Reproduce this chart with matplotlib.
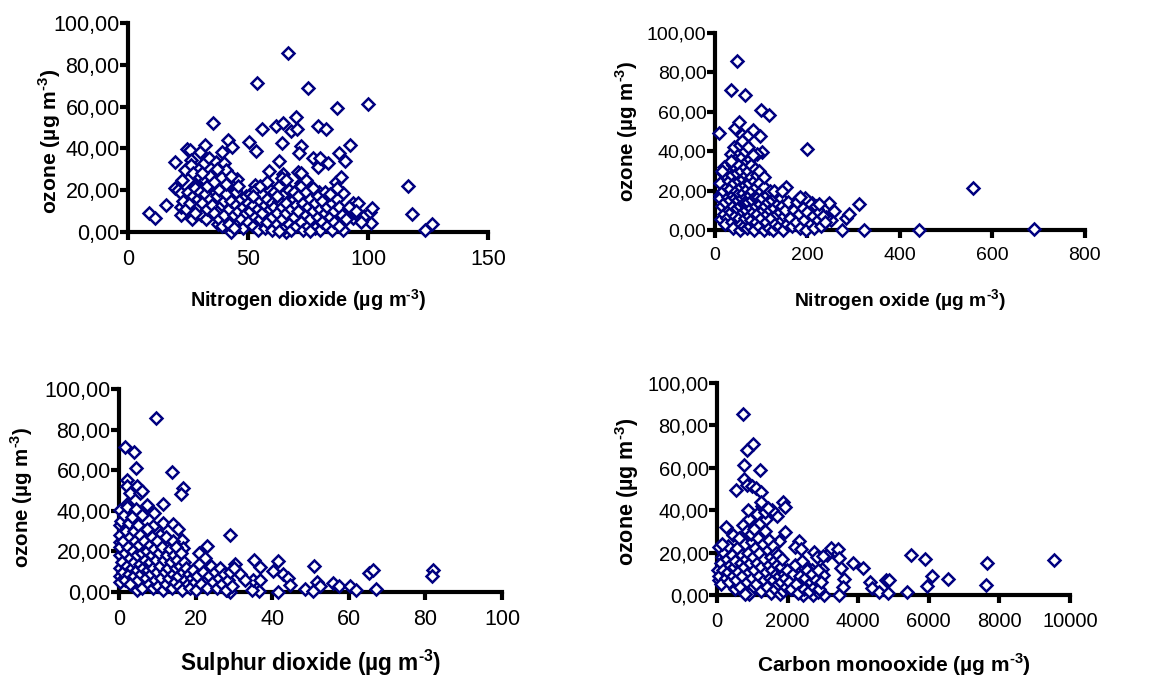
import matplotlib.pyplot as plt
from matplotlib.ticker import FuncFormatter

plt.rcParams['font.family'] = ['Liberation Sans', 'DejaVu Sans']
plt.rcParams['mathtext.fontset'] = 'custom'
plt.rcParams['mathtext.rm'] = 'Liberation Sans:bold'
plt.rcParams['mathtext.bf'] = 'Liberation Sans:bold'

# ---------- data ----------
# Nitrogen dioxide vs ozone
no2_x = [8.6, 11.4, 15.7, 19.7, 19.4, 20.8, 21.9, 21.9, 22.6, 22.2,
         23.6, 24.6, 26.0, 26.1, 26.4, 26.5, 27.1, 27.8, 27.8, 28.5,
         29.9, 30.1, 30.6, 30.6, 31.5, 32.2, 32.2, 32.6, 33.8, 35.4,
         35.7, 36.1, 36.5, 37.5, 38.2, 39.2, 39.9, 41.0, 41.7, 42.4,
         43.3, 43.1, 44.4, 45.6, 45.6, 50.4, 53.5, 53.9, 52.8, 56.0,
         58.8, 61.5, 62.9, 64.6, 64.3, 64.6, 66.7, 66.0, 68.1, 70.1,
         70.6, 71.9, 71.1, 70.8, 72.2, 75.0, 77.1, 79.2, 79.9, 79.0,
         79.6, 82.6, 83.3, 84.7, 87.2, 87.9, 86.8, 88.9, 90.3, 89.6,
         89.6, 92.4, 87.5, 93.8, 93.8, 94.9, 95.8, 98.3, 100.0, 100.7,
         101.4, 101.8, 116.7, 118.3, 123.6, 126.8,
         23, 24, 25, 26, 27, 28, 29, 29, 30, 28,
         31, 32, 33, 33, 34, 35, 36, 37, 38, 39, 38, 39, 34, 37, 40, 40, 36, 31,
         41, 42, 42, 43, 44, 45, 45, 46, 47, 47, 48, 48, 49, 49, 50, 50, 46, 44, 41, 43,
         51, 51, 52, 52, 53, 53, 54, 54, 55, 55, 56, 56, 57, 57, 58, 58, 59, 59, 60, 60,
         60, 55, 58, 52,
         61, 61, 62, 62, 63, 63, 64, 64, 65, 65, 66, 66, 67, 67, 68, 68, 69, 69, 70, 70,
         62, 64, 66, 63, 69,
         71, 71, 72, 72, 73, 73, 74, 74, 75, 75, 76, 76, 77, 77, 78, 78, 79, 79, 80, 80,
         74, 72, 76,
         81, 81, 82, 82, 83, 83, 84, 85, 85, 86, 86, 87, 88, 88, 89, 84, 87,
         91, 92, 95, 97]
no2_o3 = [9.1, 6.7, 13.1, 33.3, 21.1, 20.0, 18.7, 8.0, 24.8, 12.0,
          29.6, 39.5, 39.2, 34.4, 32.0, 6.4, 28.0, 22.4, 18.4, 13.6,
          26.4, 38.1, 16.8, 8.0, 32.8, 41.6, 24.8, 6.4, 35.2, 52.3,
          28.0, 18.9, 33.6, 4.0, 31.2, 38.4, 33.1, 29.6, 44.0, 20.8,
          40.8, 0.0, 20.0, 25.3, 5.6, 43.2, 38.7, 71.5, 22.4, 49.3,
          29.3, 50.9, 34.1, 52.3, 42.4, 27.7, 85.6, 0.0, 48.3, 54.9,
          49.3, 41.1, 37.6, 28.8, 23.5, 69.1, 35.5, 31.2, 35.5, 50.9,
          19.2, 49.1, 33.1, 15.2, 59.2, 37.6, 24.0, 26.4, 33.9, 18.9,
          1.1, 41.6, 4.8, 14.1, 6.7, 8.8, 14.1, 7.5, 61.3, 9.6,
          4.3, 11.7, 21.9, 8.8, 1.1, 3.7,
          15, 11, 19, 14, 17, 21, 12, 16, 19, 9,
          14, 18, 11, 22, 16, 13, 9, 17, 6, 13, 20, 3, 27, 30, 15, 8, 24, 28,
          18, 11, 4, 15, 8, 13, 19, 10, 6, 16, 12, 2, 9, 17, 14, 5, 22, 2, 23, 27,
          10, 18, 3, 13, 7, 20, 11, 1, 15, 6, 9, 18, 2, 13, 16, 5, 11, 20, 7, 14,
          1, 22, 24, 17,
          12, 19, 4, 9, 15, 22, 6, 12, 2, 18, 9, 14, 4, 20, 11, 1, 16, 7, 13, 3,
          17, 26, 25, 0.5, 19,
          10, 17, 5, 22, 14, 1, 8, 19, 12, 3, 16, 6, 10, 21, 2, 14, 7, 17, 11, 1,
          25, 28, 0.5,
          5, 15, 9, 19, 3, 12, 7, 14, 1, 10, 5, 16, 3, 12, 8, 18, 21,
          6, 12, 10, 5]

# Nitrogen oxide vs ozone
nox_x = [48, 34.5, 64.7, 98.6, 117, 9.4, 43, 52.5, 57.6, 72,
         82.7, 97, 100.7, 91.4, 34.5, 200, 10.8, 10.8, 12.2, 19.4,
         18, 154.7, 140, 180, 210.8, 221, 247, 257, 252, 284,
         290, 311.5, 275.5, 321.6, 441, 557.6, 690.6, 239.6,
         12, 15, 18, 20, 22, 25, 27, 28, 30, 26, 15, 22, 30,
         32, 33, 35, 36, 37, 38, 40, 40, 42, 43, 44, 45, 46, 47, 48, 48, 49, 50, 35, 42, 38,
         51, 52, 53, 53, 54, 55, 55, 56, 57, 57, 58, 59, 60, 60, 61, 62, 62, 63, 64, 65,
         65, 66, 67, 68, 68, 69, 70, 70, 58, 64,
         71, 72, 72, 73, 74, 75, 75, 76, 77, 78, 78, 79, 80, 81, 82, 83, 84, 85, 86, 87,
         88, 88, 89, 90,
         92, 93, 95, 96, 97, 99, 100, 102, 103, 105, 106, 108, 110, 112, 113, 115, 117, 118,
         120, 95, 105,
         122, 124, 126, 128, 130, 132, 134, 136, 138, 140, 142, 144, 146, 148, 150, 152, 155,
         158, 128, 145,
         162, 166, 170, 175, 178, 182, 185, 190, 193, 197, 200, 203, 207, 212, 215, 218, 222,
         226, 230, 233, 238, 195, 185, 225]
nox_o3 = [85.6, 71.2, 68.3, 60.7, 58.6, 49.0, 52.0, 54.6, 48.3, 48.3,
          50.8, 47.8, 39.8, 38.6, 38.6, 41.2, 24.0, 17.8, 5.4, 32.2,
          28.8, 22.0, 18.6, 15.6, 13.6, 10.5, 13.6, 9.8, 5.1, 5.9,
          8.1, 13.2, 0.0, 0.0, 0.0, 21.2, 0.3, 6.8,
          16, 12, 20, 8, 14, 22, 6, 17, 10, 27, 30, 3, 25,
          15, 21, 9, 28, 4, 18, 12, 33, 24, 7, 16, 36, 20, 2, 11, 29, 40, 15, 35, 42, 1,
          25, 6, 19, 33, 12, 43, 0, 22, 3, 30, 16, 37, 9, 26, 19, 44, 2, 13, 32, 23,
          6, 40, 17, 28, 10, 35, 1, 21, 45, 14,
          30, 14, 42, 7, 24, 36, 2, 18, 11, 33, 27, 5, 20, 15, 38, 9, 25, 0, 17, 31,
          4, 12, 22, 28,
          8, 17, 24, 2, 13, 20, 6, 16, 10, 0, 22, 12, 4, 18, 8, 14, 1, 20,
          10, 30, 27,
          6, 15, 0, 11, 3, 17, 8, 13, 2, 9, 16, 5, 12, 0, 7, 10, 3,
          14, 20, 20,
          6, 2, 10, 4, 14, 8, 1, 11, 5, 0, 9, 14, 3, 7, 1, 12, 5,
          9, 2, 7, 4, 16, 17, 13]

# Sulphur dioxide vs ozone
so2_x = [9.6, 1.7, 3.9, 4.4, 13.9, 2.0, 2.0, 2.9, 4.8, 5.5,
         6.1, 16.8, 16.2, 11.4, 2.0, 7.2, 9.1, 8.8, 10.7, 11.6,
         14.0, 15.5, 16.4, 16.6, 29.0, 22.9, 20.8, 30.4, 35.3, 36.8,
         41.4, 40.1, 42.7, 44.2, 44.6, 50.9, 51.7, 52.6, 55.9, 57.5,
         60.4, 62.0, 65.3, 66.3, 67.2, 82.0, 81.7, 48.5, 50.7, 41.6,
         36.6, 34.8, 34.9, 36.8, 31.6, 32.9, 29.0, 28.1, 4.6, 0.3,
         0.3, 0.3,
         0.2, 0.3, 0.3, 0.4, 0.2, 0.5, 0.4, 0.8, 1, 1, 1.2, 1.5, 1.6, 1.8, 2, 2.2, 2.4, 2.5,
         2.7, 2.8, 3, 3,
         3.3, 3.5, 3.6, 3.8, 4, 4, 4.2, 4.4, 4.6, 4.8, 5, 5, 5.2, 5.4, 5.6, 5.8, 6, 6, 6.1,
         6.4, 6.6, 6.8, 7, 7.2, 7.4, 7.6, 7.8, 8, 8, 8.3, 8.5, 8.7, 9, 9, 9.2, 9.5, 9.7, 10, 10,
         10.3, 10.5, 10.8, 11, 11.2, 11.5, 11.7, 12, 12.2, 12.4, 12.6, 12.8, 13, 13.2, 13.5,
         13.8, 14, 14, 14.3,
         14.6, 14.8, 15, 15.2, 15.5, 15.8, 16, 16.2, 16.5, 16.8, 17, 17.3, 17.6, 18, 18.3,
         18.6, 19, 19.4, 19.8, 20,
         20.5, 21, 21.5, 22, 22.5, 23, 23.5, 24, 24.5, 25, 25.5, 26, 26.5, 27, 27.5, 28, 28.5,
         29, 29.5, 30]
so2_o3 = [85.9, 71.5, 68.8, 61.2, 59.2, 55.1, 52.1, 48.8, 52.3, 49.0,
          49.8, 51.3, 48.2, 43.3, 43.6, 42.8, 39.1, 32.4, 28.0, 34.0,
          33.7, 30.9, 25.5, 21.7, 28.0, 22.5, 19.4, 14.0, 15.6, 12.3,
          15.1, 10.4, 9.0, 6.9, 3.6, 13.0, 4.9, 3.0, 4.4, 3.0,
          3.0, 0.8, 9.5, 11.0, 1.6, 10.7, 7.7, 1.6, 0.5, 0.0,
          0.5, 0.8, 5.8, 5.8, 9.0, 5.8, 0.0, 0.8, 0.8, 40.3,
          32.9, 24.7,
          8, 12, 18, 22, 28, 35, 5, 15, 10, 25, 38, 19, 6, 30, 13, 42, 22, 9,
          34, 17, 27, 4,
          12, 37, 20, 8, 30, 15, 25, 41, 11, 18, 33, 6, 23, 14, 28, 9, 38, 19, 2,
          12, 25, 16, 7, 31, 20, 11, 4, 23, 15, 9, 18, 27, 12, 2, 21, 6, 16, 25, 10,
          3, 19, 13, 7, 22, 1, 16, 10, 27, 4, 18, 12, 7, 21, 15,
          2, 9, 25, 18,
          5, 12, 22, 16, 8, 3, 13, 19, 1, 10, 15, 6, 12, 4, 9,
          2, 7, 11, 5, 1,
          8, 14, 4, 10, 17, 2, 8, 13, 5, 10, 2, 7, 12, 4, 9, 1, 6,
          10, 3, 12]

# Carbon monooxide vs ozone
co_x = [737, 1024, 861, 766, 1215, 545, 766, 861, 986, 1100,
        1244, 268, 450, 1866, 1914, 1703, 1742, 1914, 2325, 2200,
        2392, 2756, 2823, 3110, 3225, 3426, 3445, 3522, 3589, 3570,
        3856, 4144, 4325, 4402, 4593, 4785, 4880, 4833, 5378, 5502,
        5904, 5952, 6077, 6555, 7656, 7627, 9550, 67, 29, 67,
        144, 3014, 2986, 3014, 3033, 3445, 2708, 2440, 2852, 2565,
        2488, 2517, 2679, 2440, 2220, 2105,
        50, 100, 120, 180, 200, 250, 280, 320, 350, 380, 420, 450, 480, 500, 300, 150,
        520, 550, 580, 600, 630, 650, 680, 700, 720, 740, 760, 780, 800, 820, 840, 860, 880,
        900, 920, 940, 960, 980, 1000, 870, 950,
        1020, 1040, 1060, 1080, 1100, 1120, 1140, 1160, 1180, 1200, 1220, 1240, 1260, 1280,
        1300, 1320, 1340, 1360, 1380, 1400, 1420, 1440, 1460, 1480, 1500, 1250, 1350,
        1520, 1540, 1560, 1580, 1600, 1620, 1640, 1660, 1680, 1700, 1720, 1740, 1760, 1780,
        1800, 1820, 1850, 1880, 1900, 1930, 1960, 1990, 1550, 1450,
        2050, 2100, 2150, 2200, 2250, 2300, 2350, 2400, 2450, 2500, 2550, 2600, 2650, 2700,
        2750, 2800, 2850, 2900, 2950, 900, 780]
co_o3 = [85.5, 71.3, 68.5, 61.1, 59.1, 49.3, 54.6, 52.0, 51.2, 50.4,
         48.8, 32.3, 28.3, 43.8, 41.7, 37.5, 25.5, 29.6, 25.5, 22.5,
         21.6, 20.5, 18.1, 18.9, 22.0, 21.7, 17.3, 12.9, 7.4, 3.9,
         15.3, 12.9, 6.0, 3.5, 1.6, 7.1, 7.1, 0.8, 1.3, 18.9,
         16.9, 4.4, 9.0, 7.6, 15.3, 4.7, 16.5, 22.5, 11.8, 7.1,
         18.1, 18.4, 12.1, 9.4, 0.0, 0.0, 0.0, 0.0, 1.3, 6.8,
         10.6, 13.7, 11.8, 13.7, 3.9, 7.9,
         9, 15, 5, 12, 20, 8, 17, 11, 6, 14, 19, 9, 13, 3, 23, 24,
         16, 7, 22, 11, 27, 4, 15, 19, 9, 33, 13, 24, 1, 17, 30, 6, 20,
         11, 36, 15, 3, 25, 8, 40, 29,
         18, 12, 31, 22, 5, 38, 15, 27, 9, 20, 34, 2, 13, 42,
         24, 7, 17, 30, 11, 36, 4, 21, 14, 26, 8, 44, 39,
         18, 1, 12, 23, 7, 16, 3, 20, 10, 14, 5, 19, 9, 0.5,
         13, 6, 17, 2, 10, 8, 4, 12, 40, 41,
         6, 3, 10, 14, 5, 1, 9, 16, 3, 8, 12, 2, 6, 10,
         4, 7, 12, 3, 6, 0.5, 0.5]

SUP = r"$^{\text{-3}}$"

# (x, y, x label, x max, x ticks, tick size, xlabel size, ylabel size, ylabel x, ylabel y)
panels = [
    (no2_x, no2_o3, "Nitrogen dioxide (µg m" + SUP + ")", 150, [0, 50, 100, 150],
     15.5, 14.3, 15.2, -0.217, 0.435),
    (nox_x, nox_o3, "Nitrogen oxide (µg m" + SUP + ")", 800, [0, 200, 400, 600, 800],
     14, 13.9, 14.8, -0.238, 0.5),
    (so2_x, so2_o3, "Sulphur dioxide (µg m" + SUP + ")", 100, [0, 20, 40, 60, 80, 100],
     15.5, 16.3, 14.8, -0.253, 0.468),
    (co_x, co_o3, "Carbon monooxide (µg m" + SUP + ")", 10000, [0, 2000, 4000, 6000, 8000, 10000],
     14.5, 15, 15.5, -0.255, 0.486),
]
xlabel_y = [300, 301, 663, 665]  # pixel centres of the x labels

# axes rectangles in figure fractions
rects = [
    [0.1108, 0.6583, 0.3117, 0.3078],
    [0.6190, 0.6613, 0.3203, 0.2900],
    [0.1030, 0.1281, 0.3316, 0.2990],
    [0.6208, 0.1237, 0.3056, 0.3122],
]

W, H = 1155, 679
fig = plt.figure(figsize=(W / 100, H / 100), dpi=100)

for (xs, ys, xlab, xmax, xt, tfs, xfs, yfs, ylx, yly), rect, xly in zip(panels, rects, xlabel_y):
    ax = fig.add_axes(rect)
    ax.plot(xs, ys, linestyle="none", marker="D", markersize=5.8,
            markerfacecolor="white", markeredgecolor="#000080",
            markeredgewidth=1.8, clip_on=False, zorder=3)
    ax.set_xlim(0, xmax)
    ax.set_ylim(0, 100)
    ax.set_xticks(xt)
    ax.set_yticks([0, 20, 40, 60, 80, 100])
    ax.yaxis.set_major_formatter(FuncFormatter(lambda v, _: f"{v:.2f}".replace(".", ",")))
    for s in ["top", "right"]:
        ax.spines[s].set_visible(False)
    for s in ["left", "bottom"]:
        ax.spines[s].set_linewidth(3)
    ax.tick_params(direction="out", length=6, width=3, labelsize=tfs)
    ax.tick_params(axis="y", pad=0)
    ax.tick_params(axis="x", pad=6)
    ax.set_ylabel("ozone (µg m" + SUP + ")", fontsize=yfs, fontweight="bold")
    ax.yaxis.set_label_coords(ylx, yly)
    ax.yaxis.label.set_verticalalignment("center")
    ax.set_xlabel(xlab, fontsize=xfs, fontweight="bold")
    bottom_px = H * (1 - rect[1])
    ax.xaxis.set_label_coords(0.5, -(xly - bottom_px) / (rect[3] * H))
    ax.xaxis.label.set_verticalalignment("center")

fig.savefig("out.png", dpi=100)
